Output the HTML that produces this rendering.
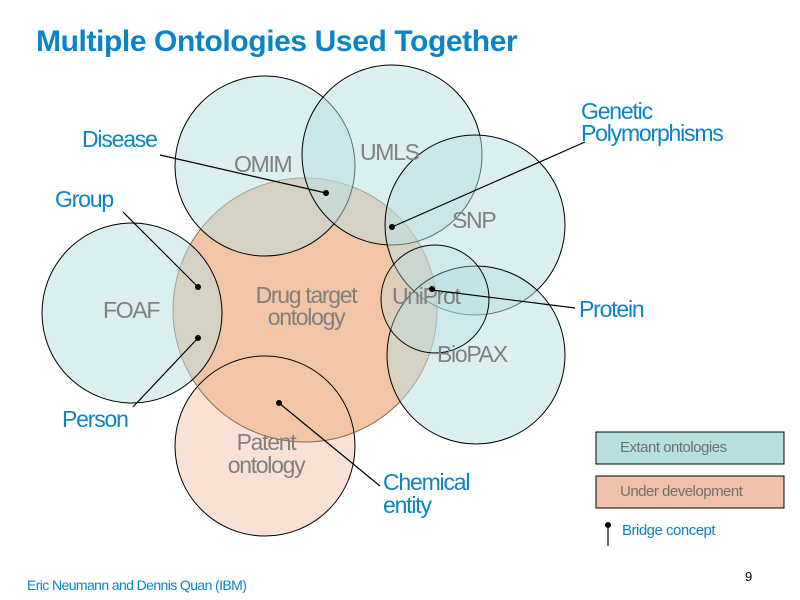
<!DOCTYPE html>
<html><head><meta charset="utf-8"><style>
body{margin:0;background:#fff;width:800px;height:600px;overflow:hidden}
svg{display:block}
text{font-family:"Liberation Sans",sans-serif}
</style></head><body>
<svg width="800" height="600" viewBox="0 0 800 600">
<text x="36" y="51" font-size="30" font-weight="bold" fill="#0a84c6" letter-spacing="-0.4">Multiple Ontologies Used Together</text>
<g stroke="#000" stroke-width="1">
<circle cx="305" cy="310" r="132" fill="#f2c5a6" stroke="#8a6a55"/>
<circle cx="265" cy="446" r="90" fill="#f9e2d5" style="mix-blend-mode:darken"/>
<circle cx="265" cy="166" r="90" fill="#b8e0e2" fill-opacity="0.5"/>
<circle cx="392" cy="155" r="90" fill="#b8e0e2" fill-opacity="0.5"/>
<circle cx="475" cy="225" r="90" fill="#b8e0e2" fill-opacity="0.5"/>
<circle cx="132" cy="313" r="90" fill="#b8e0e2" fill-opacity="0.5"/>
<circle cx="476" cy="355" r="89" fill="#b8e0e2" fill-opacity="0.5"/>
<circle cx="435" cy="299" r="54" fill="#b8e0e2" fill-opacity="0.35"/>
</g>
<g fill="#808080" font-size="23" letter-spacing="-1.3">
<text x="234" y="172">OMIM</text>
<text x="360" y="160">UMLS</text>
<text x="452" y="228">SNP</text>
<text x="103" y="318">FOAF</text>
<text x="306" y="303" text-anchor="middle">Drug target</text>
<text x="306" y="325" text-anchor="middle">ontology</text>
<text x="392" y="304">UniProt</text>
<text x="437" y="362">BioPAX</text>
<text x="266" y="450" text-anchor="middle">Patent</text>
<text x="266" y="473" text-anchor="middle">ontology</text>
</g>
<g stroke="#000" stroke-width="1.2">
<line x1="160" y1="155" x2="326" y2="193"/>
<line x1="123" y1="212" x2="198" y2="287"/>
<line x1="133" y1="407" x2="198" y2="338"/>
<line x1="585" y1="142" x2="392" y2="227"/>
<line x1="575" y1="308" x2="432" y2="290"/>
<line x1="380" y1="486" x2="279" y2="403"/>
<line x1="608" y1="525" x2="608" y2="546"/>
</g>
<g fill="#000">
<circle cx="326" cy="193" r="3"/><circle cx="198" cy="287" r="3"/><circle cx="198" cy="338" r="3"/>
<circle cx="392" cy="227" r="3"/><circle cx="432" cy="289" r="3"/><circle cx="279" cy="403" r="3"/>
<circle cx="608" cy="525" r="3"/>
</g>
<g fill="#0a84c6" font-size="23" letter-spacing="-1.2">
<text x="82" y="147">Disease</text>
<text x="55" y="207">Group</text>
<text x="62" y="427">Person</text>
<text x="581" y="119">Genetic</text>
<text x="581" y="141">Polymorphisms</text>
<text x="579" y="317">Protein</text>
<text x="383" y="490">Chemical</text>
<text x="383" y="513">entity</text>
</g>
<rect x="596" y="432" width="188" height="32" fill="#b8dfe0" stroke="#000"/>
<rect x="596" y="476" width="188" height="32" fill="#f0c0aa" stroke="#000"/>
<text x="620" y="452" font-size="15" fill="#707070" letter-spacing="-0.5">Extant ontologies</text>
<text x="620" y="496" font-size="15" fill="#707070" letter-spacing="-0.5">Under development</text>
<text x="622" y="535" font-size="15" fill="#0a84c6" letter-spacing="-0.5">Bridge concept</text>
<text x="27" y="590" font-size="14" fill="#0a84c6" letter-spacing="-0.6">Eric Neumann and Dennis Quan (IBM)</text>
<text x="745" y="581" font-size="13" fill="#000">9</text>
</svg>
</body></html>
